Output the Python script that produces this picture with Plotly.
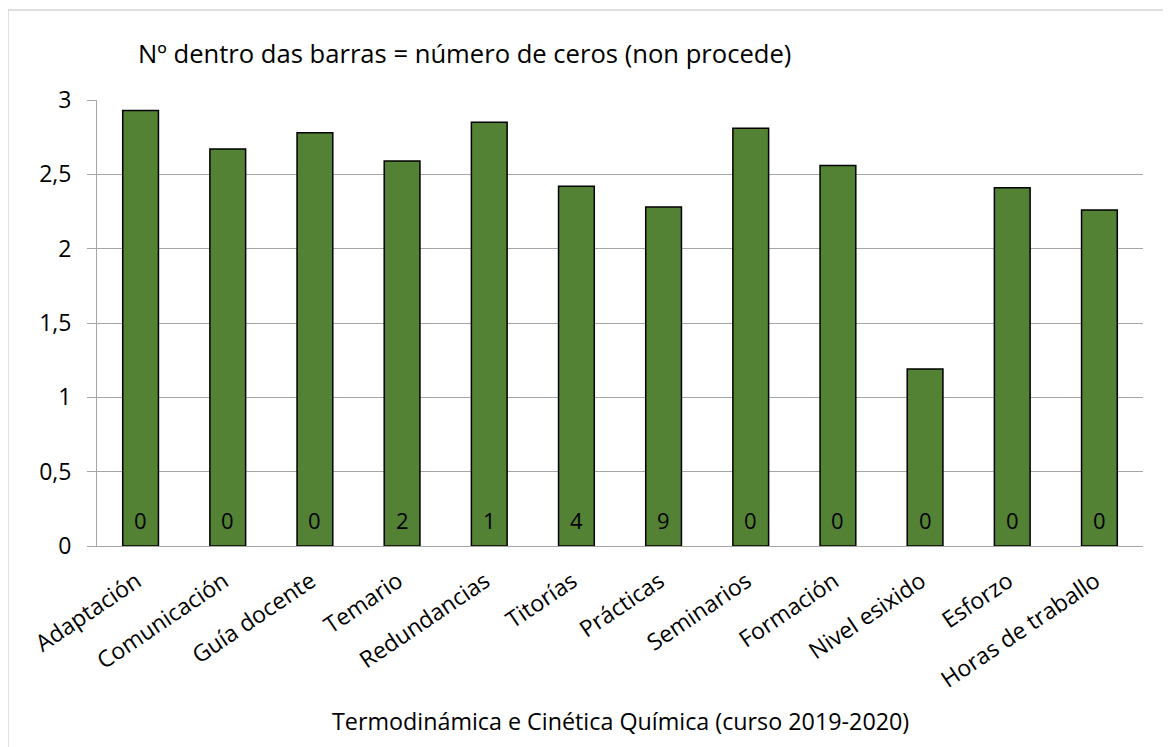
import plotly.graph_objects as go

categories = ["Adaptación", "Comunicación", "Guía docente", "Temario", "Redundancias",
              "Titorías", "Prácticas", "Seminarios", "Formación", "Nivel esixido",
              "Esforzo", "Horas de traballo"]
values = [2.93, 2.67, 2.78, 2.59, 2.85, 2.42, 2.28, 2.81, 2.56, 1.19, 2.41, 2.26]
zero_counts = ["0", "0", "0", "2", "1", "4", "9", "0", "0", "0", "0", "0"]
y_ticks = [0, 0.5, 1, 1.5, 2, 2.5, 3]
y_tick_labels = ["0", "0,5", "1", "1,5", "2", "2,5", "3"]

title_text = "Nº dentro das barras = número de ceros (non procede)"
x_title = "Termodinámica e Cinética Química (curso 2019-2020)"

FONT = "Open Sans"
W, H = 1163, 739          # page body has an 8px margin
OFF = 8
L, R, T, B = 89, 28, 92, 201
pw = W - L - R
ph = H - T - B

def px_x(p):  # image pixel -> paper
    return (p - OFF - L) / pw

def px_y(p):
    return (H - B - (p - OFF)) / ph

fig = go.Figure()
fig.add_trace(go.Bar(
    x=categories, y=values,
    marker=dict(color="#548235", line=dict(color="#000000", width=1.5)),
    width=0.41,
    hoverinfo="skip",
))

annotations = [
    dict(text=title_text, xref="paper", yref="paper", x=px_x(464), y=px_y(54),
         xanchor="center", yanchor="middle", showarrow=False,
         font=dict(family=FONT, size=25.6, color="#000000")),
    dict(text=x_title, xref="paper", yref="paper", x=px_x(620), y=px_y(721),
         xanchor="center", yanchor="middle", showarrow=False,
         font=dict(family=FONT, size=23.3, color="#000000")),
]
for c, z in zip(categories, zero_counts):
    annotations.append(dict(text=z, x=c, y=0, xref="x", yref="y", showarrow=False,
                            xanchor="center", yanchor="middle", yshift=26,
                            font=dict(family=FONT, size=22, color="#000000")))

fig.update_layout(
    width=W, height=H,
    margin=dict(l=L, r=R, t=T, b=B),
    paper_bgcolor="white", plot_bgcolor="white",
    showlegend=False,
    font=dict(family=FONT, size=22, color="#000000"),
    xaxis=dict(
        type="category", range=[-0.5, 11.5],
        tickangle=-34, showgrid=False,
        showline=True, linecolor="#a6a6a6", linewidth=1,
        ticks="", ticklabelstandoff=12, ticklabelshift=-4,
        tickfont=dict(family=FONT, size=23, color="#000000"),
    ),
    yaxis=dict(
        range=[0, 3], tickvals=y_ticks, ticktext=y_tick_labels,
        showgrid=True, gridcolor="#a6a6a6", gridwidth=1,
        showline=True, linecolor="#a6a6a6", linewidth=1,
        ticks="outside", ticklen=9, tickcolor="#a6a6a6", ticklabelstandoff=11,
        tickfont=dict(family=FONT, size=23, color="#000000"),
        zeroline=False,
    ),
    shapes=[dict(type="rect", xref="paper", yref="paper",
                 x0=px_x(8), x1=px_x(1200), y0=px_y(780), y1=px_y(10),
                 line=dict(color="#bfbfbf", width=1), fillcolor="rgba(0,0,0,0)", layer="below")],
    annotations=annotations,
)

fig.write_html("out.html")
